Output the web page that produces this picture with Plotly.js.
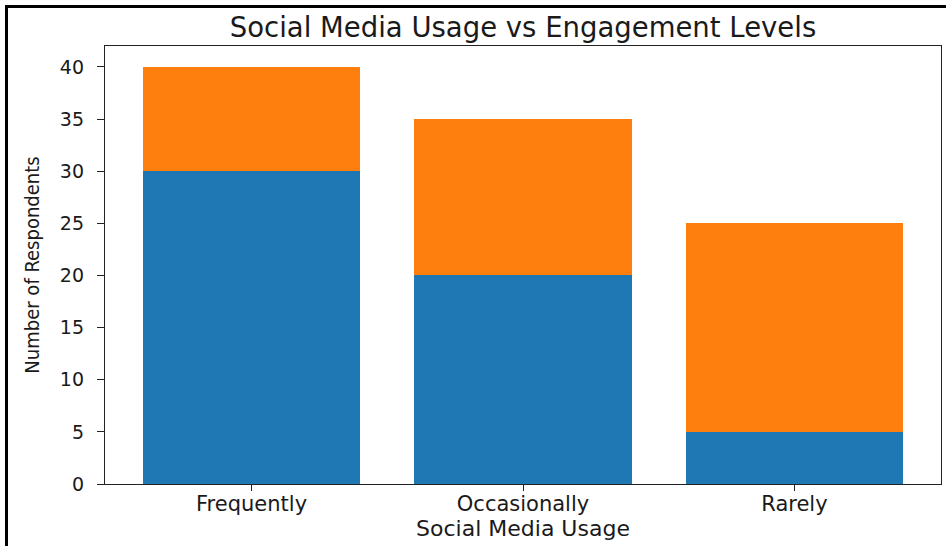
<!DOCTYPE html>
<html>
<head>
<meta charset="utf-8">
<script src="https://cdn.plot.ly/plotly-3.0.1.min.js"></script>
<style>
  html, body { margin: 0; padding: 0; background: #ffffff; }
  #wrap { position: relative; width: 946px; height: 546px; overflow: hidden; }
  #frame { position: absolute; left: 5px; top: 5px; width: 960px; height: 560px;
           border-left: 3px solid #000; border-top: 3px solid #000; box-sizing: border-box; pointer-events: none; }
  #chart { position: absolute; left: 0; top: 0; width: 946px; height: 546px; }
</style>
</head>
<body>
<div id="wrap">
  <div id="chart"></div>
  <div id="frame"></div>
</div>
<script>
// Data
const categories = ['Frequently', 'Occasionally', 'Rarely'];
const highEngagement = [30, 20, 5];
const lowEngagement = [10, 15, 20];
const yTickValues = [0, 5, 10, 15, 20, 25, 30, 35, 40];

const traces = [
  { type: 'bar', x: categories, y: highEngagement, name: 'High Engagement',
    marker: { color: '#1f77b4', line: { width: 0 } }, hoverinfo: 'x+y+name' },
  { type: 'bar', x: categories, y: lowEngagement, name: 'Low Engagement',
    marker: { color: '#ff7f0e', line: { width: 0 } }, hoverinfo: 'x+y+name' }
];

const layout = {
  width: 946, height: 546,
  margin: { l: 105, r: 5, t: 46, b: 62, pad: 0 },
  paper_bgcolor: '#ffffff', plot_bgcolor: '#ffffff',
  barmode: 'stack', bargap: 0.2,
  showlegend: false,
  title: {
    text: 'Social Media Usage vs Engagement Levels',
    font: { family: 'DejaVu Sans, sans-serif', size: 27.5, color: '#1a1a1a' },
    x: 0.5, xref: 'paper', xanchor: 'center',
    y: 1 - 27 / 546, yref: 'container', yanchor: 'middle'
  },
  xaxis: {
    type: 'category',
    range: [-0.54, 2.54],
    showline: true, mirror: true, linecolor: '#222', linewidth: 1.3,
    showgrid: false, zeroline: false,
    ticks: 'outside', ticklen: 6, tickwidth: 1.2, tickcolor: '#222',
    ticklabelstandoff: -5,
    tickfont: { family: 'DejaVu Sans, sans-serif', size: 21, color: '#1a1a1a' },
    title: { text: 'Social Media Usage', standoff: 0,
             font: { family: 'DejaVu Sans, sans-serif', size: 22, color: '#1a1a1a' } }
  },
  yaxis: {
    range: [0, 42],
    tickmode: 'array', tickvals: yTickValues, ticktext: yTickValues.map(String),
    showline: true, mirror: true, linecolor: '#222', linewidth: 1.3,
    showgrid: false, zeroline: false,
    ticks: 'outside', ticklen: 7, tickwidth: 1.2, tickcolor: '#222',
    ticklabelstandoff: 9,
    tickfont: { family: 'DejaVu Sans, sans-serif', size: 19, color: '#1a1a1a' },
    title: { text: 'Number of Respondents', standoff: 14,
             font: { family: 'DejaVu Sans Condensed, DejaVu Sans, sans-serif', size: 20, color: '#1a1a1a' } }
  }
};

Plotly.newPlot('chart', traces, layout, { displayModeBar: false });
</script>
</body>
</html>
